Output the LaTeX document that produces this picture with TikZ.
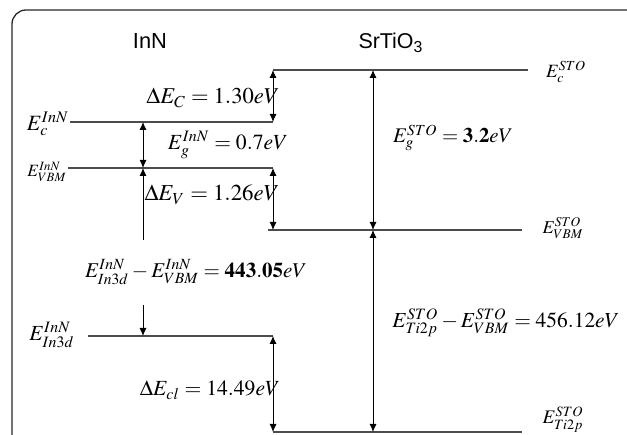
\documentclass[tikz,border=0pt]{standalone}
\usepackage{mathptmx}
\usepackage[no-math]{fontspec}
\newfontfamily\arialfont{Liberation Sans}
\usepackage{graphicx}
\usetikzlibrary{arrows.meta}
\begin{document}
\begin{tikzpicture}[x=1pt,y=-1pt,
  frame/.style={draw=black!85, line width=1.3pt},
  level/.style={draw=black!70, line width=1.3pt},
  dimarrow/.style={draw=black, line width=0.9pt, {Latex[length=8pt,width=7pt]}-{Latex[length=8pt,width=7pt]}},
  onearrow/.style={draw=black, line width=0.9pt, -{Latex[length=8pt,width=7pt]}},
  lbl/.style={inner sep=0pt, anchor=center}]
\useasboundingbox (0,0) rectangle (627,435);
% frame
\coordinate (fb) at (12,437);
\coordinate (fr) at (629,10);
\draw[frame] (fb) -- (12,24) arc[start angle=180,end angle=270,radius=14] -- (fr);
% level coordinates
\coordinate (cS1) at (273,70);  \coordinate (cS2) at (528,70);
\coordinate (cI1) at (70,122);  \coordinate (cI2) at (273,122);
\coordinate (vI1) at (68,168);  \coordinate (vI2) at (273,168);
\coordinate (vS1) at (268,230); \coordinate (vS2) at (522,230);
\coordinate (dI1) at (88,336);  \coordinate (dI2) at (273,336);
\coordinate (tS1) at (273,432); \coordinate (tS2) at (522,432);
% levels
\draw[level] (cS1) -- (cS2);
\draw[level] (cI1) -- (cI2);
\draw[level] (vI1) -- (vI2);
\draw[level] (vS1) -- (vS2);
\draw[level] (dI1) -- (dI2);
\draw[level] (tS1) -- (tS2);
% arrow coordinates
\coordinate (gI1) at (143,122); \coordinate (gI2) at (143,168);
\coordinate (vSa) at (273,230);
\coordinate (sC) at (373,70); \coordinate (sV) at (373,230); \coordinate (sT) at (373,432);
\coordinate (iUp) at (143,240); \coordinate (iDn) at (143,305); \coordinate (iD) at (143,336);
% arrows
\draw[dimarrow] (cS1) -- (cI2);
\draw[dimarrow] (gI1) -- (gI2);
\draw[dimarrow] (vI2) -- (vSa);
\draw[dimarrow] (sC) -- (sV);
\draw[dimarrow] (sV) -- (sT);
\draw[onearrow] (iUp) -- (gI2);
\draw[onearrow] (iDn) -- (iD);
\draw[dimarrow] (dI2) -- (tS1);
% titles
\node[lbl] (tInN) at (150,41) {\resizebox{34pt}{!}{\arialfont InN}};
\node[lbl] (tSTO) at (391,43) {\resizebox{65pt}{!}{\arialfont SrTiO\textsubscript{3}}};
% labels
\node[lbl] (lEcS) at (566,72) {\resizebox{40pt}{!}{$E_c^{STO}$}};
\node[lbl] (lEvS) at (563,228) {\resizebox{41pt}{!}{$E_{VBM}^{STO}$}};
\node[lbl] (lEtS) at (563,420) {\resizebox{41pt}{!}{$E_{Ti2p}^{STO}$}};
\node[lbl] (lEcI) at (48,124) {\resizebox{42pt}{!}{$E_c^{InN}$}};
\node[lbl] (lEvI) at (47,172) {\resizebox{39pt}{!}{$E_{VBM}^{InN}$}};
\node[lbl] (lEdI) at (52,335) {\resizebox{45pt}{!}{$E_{In3d}^{InN}$}};
\node[lbl] (lDEc) at (213,98) {\resizebox{133pt}{!}{$\Delta E_C = 1.30eV$}};
\node[lbl] (lEgI) at (228,145) {\resizebox{120pt}{!}{$E_g^{InN} = 0.7eV$}};
\node[lbl] (lDEv) at (212,195) {\resizebox{135pt}{!}{$\Delta E_V = 1.26eV$}};
\node[lbl] (lEgS) at (453,138) {\resizebox{120pt}{!}{$E_g^{STO} = \mathbf{3.2}eV$}};
\node[lbl] (lCLI) at (196,272) {\resizebox{222pt}{!}{$E_{In3d}^{InN} - E_{VBM}^{InN} = \mathbf{443.05}eV$}};
\node[lbl] (lDEcl) at (210,390) {\resizebox{140pt}{!}{$\Delta E_{cl} = 14.49eV$}};
\node[lbl] (lCLS) at (506,323) {\resizebox{227pt}{!}{$E_{Ti2p}^{STO} - E_{VBM}^{STO} = 456.12eV$}};
\end{tikzpicture}
\end{document}
